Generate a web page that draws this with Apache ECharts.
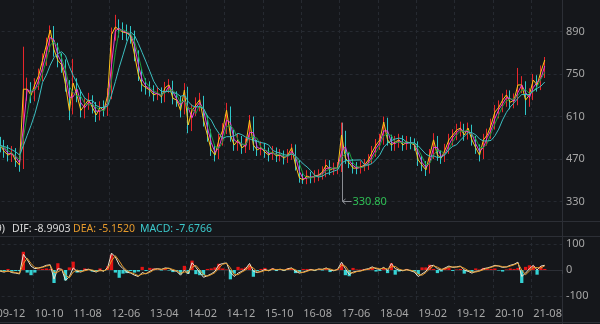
<!DOCTYPE html>
<html><head><meta charset="utf-8">
<script src="https://cdn.jsdelivr.net/npm/echarts@6/dist/echarts.min.js"></script>
<style>html,body{margin:0;padding:0;background:#15171b;}#c{width:600px;height:324px;}</style>
</head><body><div id="c"></div>
<script>
// ---- data ----
const startYear = 2009, startMonth = 6, monthCount = 154;
const tickLabels = ['09-12','10-10','11-08','12-06','13-04','14-02','14-12','15-10','16-08','17-06','18-04','19-02','19-12','20-10','21-08'];
const priceTicks = [330, 470, 610, 750, 890];
const macdTicks = [-100, 0, 100];

const openArr = [470,482,498,522,503,532,503,517,513,497,481,492,463,452,698,702,678,717,743,797,843,
893,832,793,782,713,632,718,682,628,650,663,642,613,642,628,682,878,907,893,890,
883,877,811,749,712,707,695,683,689,673,707,712,672,662,632,695,580,632,646,663,
596,551,498,485,531,567,629,551,514,531,509,514,596,518,498,509,491,485,491,482,
481,475,481,505,452,406,403,412,410,412,419,425,452,432,438,442,547,475,455,442,
438,446,448,469,491,518,531,590,535,514,528,531,518,524,521,514,469,448,436,485,
531,481,475,502,531,551,563,570,551,570,531,505,485,531,551,584,623,642,662,679,
659,666,712,712,666,683,728,716,755];
const closeArr = [480,500,520,505,530,505,515,515,495,483,490,465,450,700,700,680,715,745,795,845,895,
830,795,780,715,630,720,680,630,648,665,640,615,640,630,680,880,905,895,888,885,
875,813,747,714,705,697,681,687,675,705,714,670,664,630,697,582,630,648,665,598,
549,500,483,533,565,631,549,516,533,507,516,598,516,500,507,493,483,493,480,483,
473,483,507,450,408,401,414,408,414,417,427,450,434,440,440,549,473,457,440,440,
444,450,467,493,516,533,592,533,516,526,533,516,526,523,516,467,450,434,483,533,
483,473,500,533,549,565,572,549,572,533,507,483,533,549,582,625,640,664,681,657,
664,714,714,664,681,730,714,757,796];
const lowArr = [452,462,482,484,487,484,482,492,474,462,460,444,428,437,662,654,660,697,727,777,822,
807,772,754,692,598,617,657,607,604,632,620,592,597,610,612,667,860,870,862,860,
850,792,727,692,682,676,660,664,654,657,687,650,642,607,617,555,562,612,627,577,
527,480,462,470,514,552,527,497,497,487,490,500,497,480,482,474,462,467,460,462,
452,457,467,432,392,388,387,390,392,397,402,410,417,417,420,427,454,440,422,420,
422,430,434,454,477,500,517,514,497,497,507,497,500,502,497,447,430,414,422,470,
464,454,460,487,514,532,544,530,534,514,487,462,470,514,537,567,604,624,642,634,
637,647,687,615,642,664,692,697,737];
const highArr = [503,520,543,540,553,548,536,543,533,516,513,506,480,840,738,723,736,768,818,870,910,
908,853,818,798,730,800,736,698,670,688,680,658,660,663,703,903,945,930,920,913,
908,893,828,768,736,726,713,708,706,724,733,728,693,678,720,708,650,673,688,678,
613,568,518,553,588,655,643,566,553,546,538,615,610,533,528,523,508,513,508,503,
498,503,520,518,466,423,433,428,433,436,446,468,466,458,460,590,563,490,470,460,
463,470,486,513,536,553,610,606,550,546,553,548,546,543,538,528,483,463,503,555,
546,498,520,553,568,586,593,586,590,583,546,518,553,570,603,648,663,686,698,696,
686,770,743,726,703,750,746,778,806];

const difArr = [2,-3,4,-2,3,-4,0,-5,-8,-3,-10,-12,-15,60,40,15,5,8,12,18,20,
-35,5,3,-40,-25,8,-5,-8,0,3,-3,-8,0,-5,10,65,50,20,5,-8,
-12,-20,-25,-10,-15,-5,3,5,2,8,6,-2,-5,-20,0,-15,28,10,-10,-28,
-22,-15,-5,20,25,27,-10,-25,-12,-5,5,25,-5,-10,-5,2,-3,5,0,3,
-2,5,8,-5,-12,-8,-3,2,-2,4,2,8,0,-3,3,30,5,-18,-8,-5,
-3,2,5,12,5,2,10,-2,25,5,0,-3,2,-3,-8,-25,-15,-5,15,18,
5,0,8,15,10,12,15,0,-5,-12,-5,-3,5,8,12,18,15,10,12,18,
22,30,-25,-12,5,18,0,15,18];
const deaArr = [1,0,1,0,1,-1,0,-3,-6,-5,-7,-10,-13,25,45,25,10,7,10,15,18,
-10,-8,2,-20,-30,-8,0,-6,-3,1,0,-5,-3,-3,3,35,55,35,12,-2,
-10,-15,-22,-16,-13,-9,0,4,3,5,7,2,-3,-12,-8,-8,10,18,0,-18,
-24,-18,-10,8,22,26,8,-18,-18,-8,0,15,8,-8,-7,-2,-1,2,2,2,
0,2,6,1,-8,-10,-5,0,0,2,3,5,4,-1,1,18,15,-6,-12,-6,
-4,0,3,8,8,4,7,4,12,14,3,-1,0,-1,-5,-17,-20,-10,5,16,
11,3,4,11,12,11,13,7,-2,-8,-8,-4,1,6,10,15,16,13,11,15,
20,26,0,-18,-4,10,9,8,16];

const legendParams = '(12,26,9)';
const legendDIF = 'DIF: -8.9903', legendDEA = 'DEA: -5.1520', legendMACD = 'MACD: -7.6766';
const annotationIndex = 96, annotationValue = 330.80;

// ---- derived ----
const categories = [];
for (let k = 0; k < monthCount; k++) {
  const m0 = startMonth - 1 + k;
  const y = startYear + Math.floor(m0 / 12), m = m0 % 12 + 1;
  categories.push(String(y % 100).padStart(2, '0') + '-' + String(m).padStart(2, '0'));
}
const kData = openArr.map((o, i) => [o, closeArr[i], lowArr[i], highArr[i]]);
function ma(n) {
  return closeArr.map((_, i) => {
    if (i < n - 1) return '-';
    let s = 0; for (let j = i - n + 1; j <= i; j++) s += closeArr[j];
    return +(s / n).toFixed(2);
  });
}
const histArr = difArr.map((d, i) => +(2 * (d - deaArr[i])).toFixed(2));

const FONT = "'Noto Sans', 'DejaVu Sans', sans-serif";
const FS = 11;
const LABEL = '#a6a6a6';
const DASH = '#262a31';
const SEP = '#2c2f36';
const isTick = (idx, val) => tickLabels.includes(val);

const chart = echarts.init(document.getElementById('c'), null, {renderer: 'canvas'});
const gridLeft = -28.4, gridWidth = 590.4;
const option = {
  backgroundColor: '#15171b',
  animation: false,
  grid: [
    {left: gridLeft, top: 0, width: gridWidth, height: 221, outerBoundsMode: 'none', containLabel: false},
    {left: gridLeft, top: 237, width: gridWidth, height: 67, outerBoundsMode: 'none', containLabel: false}
  ],
  xAxis: [
    {type: 'category', gridIndex: 0, data: categories, boundaryGap: true,
     axisLine: {show: false}, axisTick: {show: false}, axisLabel: {show: false},
     splitLine: {show: true, interval: isTick, lineStyle: {color: DASH, type: [3, 3]}}},
    {type: 'category', gridIndex: 1, data: categories, boundaryGap: true,
     axisLine: {show: true, lineStyle: {color: SEP}},
     axisTick: {show: true, interval: isTick, length: 4, lineStyle: {color: '#3a3d44'}},
     axisLabel: {show: true, interval: isTick, align: 'left', margin: 4, color: LABEL, fontSize: FS, fontFamily: FONT, hideOverlap: false},
     splitLine: {show: true, interval: isTick, lineStyle: {color: DASH, type: [3, 3]}}}
  ],
  yAxis: [
    {type: 'value', gridIndex: 0, position: 'right', min: 265.8, max: 993.8, scale: true,
     axisLine: {show: false},
     axisTick: {show: false, customValues: priceTicks},
     axisLabel: {customValues: priceTicks, align: 'left', margin: 4, color: LABEL, fontSize: FS, fontFamily: FONT},
     splitLine: {show: true, lineStyle: {color: DASH, type: [3, 3]}}},
    {type: 'value', gridIndex: 1, position: 'right', min: -130.8, max: 126.9,
     axisLine: {show: false},
     axisTick: {show: false, customValues: macdTicks},
     axisLabel: {customValues: macdTicks, align: 'left', margin: 4, color: LABEL, fontSize: FS, fontFamily: FONT},
     splitLine: {show: true, lineStyle: {color: DASH, type: [3, 3]}}}
  ],
  series: [
    {name: 'K', type: 'candlestick', xAxisIndex: 0, yAxisIndex: 0, data: kData, barWidth: 1,
     itemStyle: {color: '#e8262b', color0: '#2ec7c9', borderColor: '#e8262b', borderColor0: '#2ec7c9', borderWidth: 1}},
    {name: 'MA5', type: 'line', xAxisIndex: 0, yAxisIndex: 0, data: closeArr, symbol: 'none', lineStyle: {color: '#ffc61a', width: 1}},
    {name: 'MA10', type: 'line', xAxisIndex: 0, yAxisIndex: 0, data: ma(2), symbol: 'none', lineStyle: {color: '#e93fd8', width: 1}},
    {name: 'MA20', type: 'line', xAxisIndex: 0, yAxisIndex: 0, data: ma(3), symbol: 'none', lineStyle: {color: '#1c9a3c', width: 1}},
    {name: 'MA60', type: 'line', xAxisIndex: 0, yAxisIndex: 0, data: ma(6), symbol: 'none', lineStyle: {color: '#3cbfc0', width: 1}},
    {name: 'MACD', type: 'bar', xAxisIndex: 1, yAxisIndex: 1, data: histArr, barCategoryGap: '15%',
     itemStyle: {color: p => p.value >= 0 ? '#e31414' : '#35d2d4'}},
    {name: 'DIF', type: 'line', xAxisIndex: 1, yAxisIndex: 1, data: difArr, symbol: 'none', lineStyle: {color: '#ece3cf', width: 1}},
    {name: 'DEA', type: 'line', xAxisIndex: 1, yAxisIndex: 1, data: deaArr, symbol: 'none', lineStyle: {color: '#e59a2c', width: 1}}
  ]
};
chart.setOption(option);

const pTop = chart.convertToPixel({gridIndex: 0}, [annotationIndex, highArr[annotationIndex]]);
const pBot = chart.convertToPixel({gridIndex: 0}, [annotationIndex, annotationValue]);
const ax = Math.round(pBot[0]) + 0.5, ayTop = pTop[1], ayBot = Math.round(pBot[1]) + 0.5;
const tf = FS + 'px ' + FONT;
const lf = '10.5px ' + FONT;
chart.setOption({
  graphic: [
    {type: 'line', shape: {x1: 0, y1: 221.5, x2: 600, y2: 221.5}, style: {stroke: SEP, lineWidth: 1}, silent: true},
    {type: 'line', shape: {x1: 0, y1: 236.5, x2: 600, y2: 236.5}, style: {stroke: SEP, lineWidth: 1}, silent: true},
    {type: 'line', shape: {x1: 562.5, y1: 0, x2: 562.5, y2: 324}, style: {stroke: SEP, lineWidth: 1}, silent: true},
    {type: 'line', shape: {x1: 0, y1: 322.5, x2: 600, y2: 322.5}, style: {stroke: SEP, lineWidth: 1}, silent: true},
    {type: 'text', style: {text: legendParams, x: 5, y: 229, align: 'right', verticalAlign: 'middle', fill: '#d8d8d8', font: lf}},
    {type: 'text', style: {text: legendDIF, x: 12, y: 229, align: 'left', verticalAlign: 'middle', fill: '#d8d8d8', font: lf}},
    {type: 'text', style: {text: legendDEA, x: 73, y: 229, align: 'left', verticalAlign: 'middle', fill: '#e59a2c', font: lf}},
    {type: 'text', style: {text: legendMACD, x: 140, y: 229, align: 'left', verticalAlign: 'middle', fill: '#3cc9cb', font: lf}},
    {type: 'line', shape: {x1: ax, y1: ayTop, x2: ax, y2: ayBot}, style: {stroke: '#8a8d93', lineWidth: 1}, silent: true},
    {type: 'line', shape: {x1: ax, y1: ayBot, x2: ax + 9, y2: ayBot}, style: {stroke: '#8a8d93', lineWidth: 1}, silent: true},
    {type: 'polyline', shape: {points: [[ax + 3, ayBot - 2.5], [ax, ayBot], [ax + 3, ayBot + 2.5]]}, style: {stroke: '#8a8d93', fill: null, lineWidth: 1}, silent: true},
    {type: 'text', style: {text: annotationValue.toFixed(2), x: ax + 10, y: ayBot, align: 'left', verticalAlign: 'middle', fill: '#2fbf55', font: tf}}
  ]
});
</script></body></html>
